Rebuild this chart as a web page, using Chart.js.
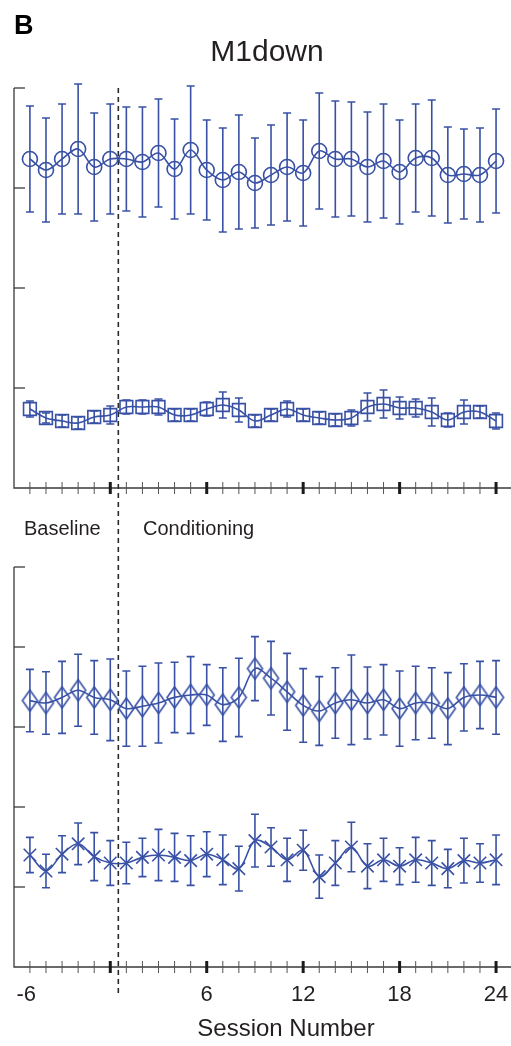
<!DOCTYPE html>
<html>
<head>
<meta charset="utf-8">
<script src="https://cdn.jsdelivr.net/npm/chart.js@4.4.1/dist/chart.umd.min.js"></script>
<style>
  html, body { margin: 0; padding: 0; background: #fff; }
  #wrap { position: relative; width: 511px; height: 1046px; }
</style>
</head>
<body>
<div id="wrap"><canvas id="chart" width="511" height="1046"></canvas></div>
<script>
// sessions in plotting order: baseline -6..-1, conditioning 1..24
const sessions = [-6, -5, -4, -3, -2, -1, 1, 2, 3, 4, 5, 6, 7, 8, 9, 10, 11, 12,
  13, 14, 15, 16, 17, 18, 19, 20, 21, 22, 23, 24];
const labelSessions = [-6, 6, 12, 18, 24];
const majorSessions = [-1, 6, 12, 18, 24];
const topTicks = [1, 2, 3, 4];
const bottomTicks = [1, 2, 3, 4, 5];

// top panel
const circleMean = [3.29, 3.18, 3.29, 3.39, 3.21, 3.29, 3.29, 3.26, 3.35, 3.19, 3.38, 3.18, 3.08, 3.16, 3.05,
  3.13, 3.21, 3.15, 3.37, 3.29, 3.29, 3.21, 3.27, 3.16, 3.30, 3.30, 3.13, 3.14, 3.13, 3.27];
const circleErr = [0.53, 0.52, 0.55, 0.65, 0.54, 0.55, 0.52, 0.55, 0.54, 0.50, 0.64, 0.50, 0.52, 0.57, 0.45,
  0.50, 0.54, 0.53, 0.58, 0.58, 0.57, 0.55, 0.57, 0.52, 0.54, 0.58, 0.48, 0.45, 0.47, 0.52];
const squareMean = [0.79, 0.70, 0.67, 0.65, 0.71, 0.73, 0.81, 0.81, 0.81, 0.73, 0.73, 0.79, 0.83, 0.78, 0.67,
  0.73, 0.79, 0.73, 0.70, 0.68, 0.70, 0.81, 0.84, 0.80, 0.80, 0.76, 0.68, 0.76, 0.76, 0.67];
const squareErr = [0.08, 0.05, 0.06, 0.06, 0.06, 0.09, 0.07, 0.07, 0.08, 0.06, 0.06, 0.07, 0.13, 0.12, 0.06,
  0.06, 0.08, 0.06, 0.06, 0.06, 0.08, 0.14, 0.14, 0.11, 0.09, 0.14, 0.07, 0.12, 0.06, 0.08];

// bottom panel
const diamondMean = [3.33, 3.30, 3.37, 3.46, 3.37, 3.34, 3.23, 3.26, 3.30, 3.37, 3.40, 3.40, 3.28, 3.37, 3.73,
  3.61, 3.44, 3.27, 3.20, 3.30, 3.34, 3.30, 3.34, 3.23, 3.30, 3.30, 3.23, 3.37, 3.40, 3.37];
const diamondErr = [0.39, 0.39, 0.45, 0.45, 0.46, 0.51, 0.47, 0.50, 0.50, 0.44, 0.48, 0.38, 0.46, 0.49, 0.40,
  0.46, 0.48, 0.46, 0.43, 0.44, 0.56, 0.45, 0.44, 0.47, 0.46, 0.44, 0.45, 0.42, 0.42, 0.46];
const crossMean = [1.40, 1.20, 1.41, 1.54, 1.38, 1.30, 1.30, 1.37, 1.40, 1.37, 1.33, 1.41, 1.34, 1.23, 1.58,
  1.50, 1.34, 1.46, 1.13, 1.30, 1.50, 1.26, 1.34, 1.26, 1.34, 1.30, 1.23, 1.33, 1.30, 1.34];
const crossErr = [0.22, 0.21, 0.23, 0.26, 0.30, 0.28, 0.26, 0.24, 0.32, 0.30, 0.31, 0.28, 0.31, 0.28, 0.33,
  0.24, 0.27, 0.25, 0.27, 0.28, 0.31, 0.28, 0.27, 0.23, 0.28, 0.28, 0.24, 0.28, 0.24, 0.31];

const blue = "#3851a5";
const axisColor = "#3a3a3a";
const textColor = "#231f20";
const font = '"Liberation Sans", Arial, Helvetica, sans-serif';
const lw = 1.6;

// tall diamond marker (not available as a built-in point style)
function diamondMarker(w, h) {
  const c = document.createElement("canvas");
  c.width = w + 4;
  c.height = h + 4;
  const g = c.getContext("2d");
  g.strokeStyle = blue;
  g.lineWidth = lw;
  g.beginPath();
  g.moveTo(c.width / 2, 2);
  g.lineTo(c.width - 2, c.height / 2);
  g.lineTo(c.width / 2, c.height - 2);
  g.lineTo(2, c.height / 2);
  g.closePath();
  g.stroke();
  return c;
}

function series(mean, err, axis, style, radius) {
  return {
    data: mean.map((v, i) => ({ x: i, y: v })),
    err: err,
    yAxisID: axis,
    borderColor: blue,
    borderWidth: lw,
    backgroundColor: "transparent",
    pointStyle: style,
    pointRadius: radius,
    pointBorderColor: blue,
    pointBackgroundColor: "transparent",
    pointBorderWidth: lw,
    tension: 0.35,
    clip: false,
  };
}

const idx = (s) => sessions.indexOf(s);

// error bars, axes, ticks, dashed divider and texts
const decorations = {
  id: "decorations",
  beforeDatasetsDraw(chart) {
    const { ctx, chartArea, scales } = chart;
    const x = scales.x;
    ctx.save();

    const panels = [
      { y: scales.yTop, ticks: topTicks },
      { y: scales.yBot, ticks: bottomTicks },
    ];
    panels.forEach((p) => {
      const y0 = p.y.getPixelForValue(0);
      const yTop = p.y.getPixelForValue(p.ticks[p.ticks.length - 1]);
      ctx.strokeStyle = axisColor;
      ctx.lineWidth = 1.3;
      ctx.beginPath();
      ctx.moveTo(chartArea.left, yTop);
      ctx.lineTo(chartArea.left, y0);
      ctx.lineTo(chartArea.right, y0);
      ctx.stroke();
      // y ticks pointing inward
      p.ticks.forEach((t) => {
        const py = p.y.getPixelForValue(t);
        ctx.beginPath();
        ctx.moveTo(chartArea.left, py);
        ctx.lineTo(chartArea.left + 11, py);
        ctx.stroke();
      });
      // x ticks crossing the axis
      sessions.forEach((s, i) => {
        const px = x.getPixelForValue(i);
        const major = majorSessions.includes(s);
        ctx.lineWidth = major ? 3 : 1;
        ctx.strokeStyle = major ? "#1a1a1a" : "#555";
        ctx.beginPath();
        ctx.moveTo(px, y0 - 6);
        ctx.lineTo(px, y0 + 6);
        ctx.stroke();
      });
    });

    // baseline / conditioning divider
    const dx = x.getPixelForValue(idx(-1) + 0.5);
    ctx.strokeStyle = "#2a2a2a";
    ctx.lineWidth = 1.6;
    ctx.setLineDash([5, 4]);
    ctx.beginPath();
    ctx.moveTo(dx, chartArea.top);
    ctx.lineTo(dx, scales.yBot.getPixelForValue(0) + 26);
    ctx.stroke();
    ctx.setLineDash([]);

    // texts
    ctx.fillStyle = "#000";
    ctx.textBaseline = "alphabetic";
    ctx.textAlign = "left";
    ctx.font = "bold 27px " + font;
    ctx.fillText("B", 14, 34);

    ctx.fillStyle = textColor;
    ctx.font = "30px " + font;
    ctx.textAlign = "center";
    ctx.fillText("M1down", 267, 61);

    ctx.font = "20px " + font;
    ctx.textAlign = "left";
    ctx.fillText("Baseline", 24, 535);
    ctx.fillText("Conditioning", 143, 535);

    ctx.font = "22px " + font;
    ctx.textAlign = "center";
    const labelY = scales.yBot.getPixelForValue(0) + 34;
    labelSessions.forEach((s) => {
      const label = String(s);
      let px = x.getPixelForValue(idx(s));
      if (label.startsWith("-")) px -= ctx.measureText("-").width / 2;
      ctx.fillText(label, px, labelY);
    });

    ctx.font = "24px " + font;
    ctx.fillText("Session Number", 286, 1036);

    // error bars
    ctx.strokeStyle = blue;
    ctx.lineWidth = lw;
    chart.data.datasets.forEach((ds) => {
      const ys = scales[ds.yAxisID];
      ds.data.forEach((pt, i) => {
        const px = x.getPixelForValue(pt.x);
        const hi = ys.getPixelForValue(pt.y + ds.err[i]);
        const lo = ys.getPixelForValue(pt.y - ds.err[i]);
        ctx.beginPath();
        ctx.moveTo(px, hi);
        ctx.lineTo(px, lo);
        ctx.moveTo(px - 4, hi);
        ctx.lineTo(px + 4, hi);
        ctx.moveTo(px - 4, lo);
        ctx.lineTo(px + 4, lo);
        ctx.stroke();
      });
    });
    ctx.restore();
  },
};

new Chart(document.getElementById("chart"), {
  type: "line",
  data: {
    datasets: [
      series(circleMean, circleErr, "yTop", "circle", 7.5),
      series(squareMean, squareErr, "yTop", "rect", 9),
      series(diamondMean, diamondErr, "yBot", diamondMarker(15, 21), 8),
      series(crossMean, crossErr, "yBot", "crossRot", 8.8),
    ],
  },
  options: {
    responsive: false,
    animation: false,
    layout: { autoPadding: false, padding: { left: 14, right: 0, top: 88, bottom: 79 } },
    plugins: { legend: { display: false }, tooltip: { enabled: false } },
    events: [],
    scales: {
      x: { type: "linear", display: false, min: -0.99, max: 29.93 },
      // top panel: 0..4 on the upper 400px
      yTop: { type: "linear", display: false, min: -4.79, max: 4 },
      // bottom panel: 0..5 on the lower 400px
      yBot: { type: "linear", display: false, min: 0, max: 10.9875 },
    },
  },
  plugins: [decorations],
});
</script>
</body>
</html>
